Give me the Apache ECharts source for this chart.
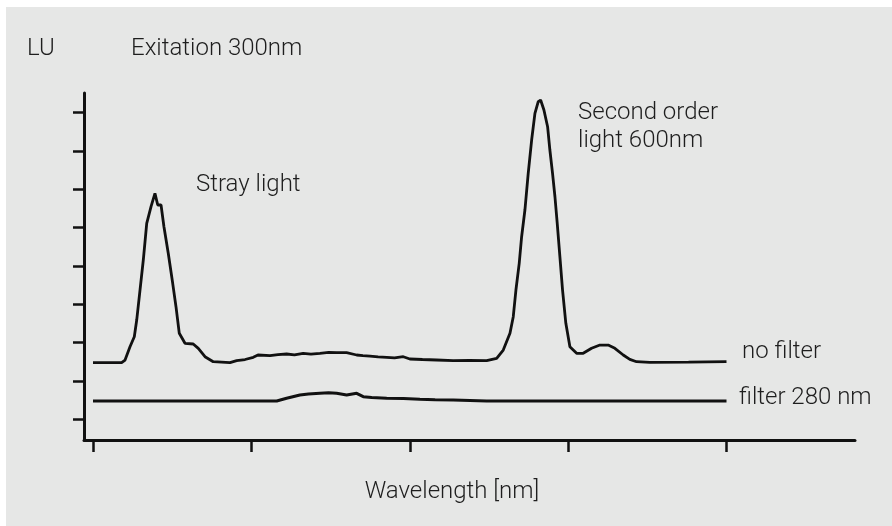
<!DOCTYPE html>
<html>
<head>
<meta charset="utf-8">
<style>
html,body{margin:0;padding:0;background:#ffffff;}
#chart{width:892px;height:526px;}
</style>
<script src="https://cdn.jsdelivr.net/npm/echarts@6/dist/echarts.min.js"></script>
</head>
<body>
<div id="chart"></div>
<script>
// Wavelength (nm) and signal (LU)
var noFilterX = [250, 272.6, 275.3, 279.2, 282.6, 284.5, 287.1, 289.7, 292.4, 295.8, 298.9, 301.1, 303.7, 306.0, 309.4, 312.9, 315.5, 318.1, 322.6, 329.1, 333.1, 338.4, 344.9, 358.1, 363.4, 370, 376.5, 380.2, 389.7, 396, 402.8, 409, 415.9, 422, 429.1, 436, 442.3, 450.2, 458.1, 463, 468.6, 475, 481.8, 488, 494.9, 500.1, 510, 521.2, 534.3, 547, 560.7, 568.6, 573.8, 579.1, 581.7, 583.8, 586.4, 588.3, 590.9, 593.5, 596.2, 598.8, 601.4, 603.3, 605.9, 608.8, 610.6, 612.7, 614.6, 616.4, 618.5, 620.6, 623.2, 626.4, 631.7, 636.9, 643.5, 650.1, 656.6, 661.9, 668.5, 673.7, 679.0, 689.5, 720, 750];
var noFilterY = [1.48, 1.48, 1.547, 1.894, 2.155, 2.59, 3.373, 4.156, 5.114, 5.547, 5.896, 5.591, 5.591, 5.025, 4.331, 3.548, 2.938, 2.244, 1.983, 1.965, 1.852, 1.633, 1.503, 1.477, 1.529, 1.56, 1.618, 1.678, 1.66, 1.69, 1.704, 1.68, 1.722, 1.70, 1.722, 1.745, 1.738, 1.738, 1.678, 1.66, 1.651, 1.63, 1.618, 1.60, 1.633, 1.573, 1.56, 1.547, 1.529, 1.54, 1.529, 1.591, 1.808, 2.244, 2.677, 3.373, 4.07, 4.764, 5.461, 6.418, 7.287, 7.983, 8.286, 8.33, 8.069, 7.634, 7.026, 6.418, 5.807, 5.114, 4.242, 3.373, 2.505, 1.894, 1.722, 1.722, 1.852, 1.938, 1.938, 1.852, 1.678, 1.565, 1.503, 1.487, 1.49, 1.503];
var filterX = [250, 395, 402.8, 413.3, 420, 429.1, 436, 442.3, 450.2, 458.1, 463.3, 470, 481.8, 495, 508.0, 520, 534.3, 560.7, 620, 750];
var filterY = [0.477, 0.477, 0.548, 0.634, 0.66, 0.678, 0.69, 0.678, 0.634, 0.678, 0.590, 0.57, 0.548, 0.54, 0.522, 0.51, 0.504, 0.477, 0.477, 0.477];
var xTicks = [250, 375, 500, 625, 750];
var yTicks = [0, 1, 2, 3, 4, 5, 6, 7, 8];

function pairs(xs, ys) { return xs.map(function (x, i) { return [x, ys[i]]; }); }

var ink = '#111111';
var txt = { fontFamily: 'Roboto', fontSize: 24, fontWeight: 300, fill: '#1e1e1e' };
function label(text, x, y, align) {
  return { type: 'text', x: x, y: y, z: 10,
    style: Object.assign({ text: text, textAlign: align || 'left', textVerticalAlign: 'middle' }, txt) };
}

var chart = echarts.init(document.getElementById('chart'), null, { renderer: 'canvas' });
chart.setOption({
  backgroundColor: 'transparent',
  animation: false,
  graphic: [
    { type: 'rect', z: -10, shape: { x: 6, y: 7, width: 886, height: 519 }, style: { fill: '#e6e7e6' } },
    label('LU', 27, 49),
    label('Exitation 300nm', 131, 49),
    label('Stray light', 196, 185),
    label('Second order', 578, 113),
    label('light 600nm', 578, 141),
    label('no filter', 742, 352),
    label('filter 280 nm', 739, 398),
    label('Wavelength [nm]', 452, 492, 'center')
  ],
  grid: [
    { left: 84, top: 93, width: 771, height: 347 },
    { left: 93, top: 112.7, width: 633.5, height: 306.6 }
  ],
  xAxis: [
    { gridIndex: 0, type: 'value', min: 0, max: 1,
      axisLine: { show: true, onZero: false, lineStyle: { color: ink, width: 3 } },
      axisTick: { show: false }, axisLabel: { show: false }, splitLine: { show: false } },
    { gridIndex: 1, type: 'value', min: xTicks[0], max: xTicks[xTicks.length - 1], interval: 125,
      offset: 20.7,
      axisLine: { show: false, onZero: false },
      axisTick: { show: true, length: 12, lineStyle: { color: ink, width: 2.5 } },
      axisLabel: { show: false }, splitLine: { show: false } }
  ],
  yAxis: [
    { gridIndex: 0, type: 'value', min: 0, max: 1,
      axisLine: { show: true, onZero: false, lineStyle: { color: ink, width: 3 } },
      axisTick: { show: false }, axisLabel: { show: false }, splitLine: { show: false } },
    { gridIndex: 1, type: 'value', min: yTicks[0], max: yTicks[yTicks.length - 1], interval: 1,
      offset: 9,
      axisLine: { show: false, onZero: false },
      axisTick: { show: true, length: 11, lineStyle: { color: ink, width: 2.5 } },
      axisLabel: { show: false }, splitLine: { show: false } }
  ],
  series: [
    { name: 'no filter', type: 'line', xAxisIndex: 1, yAxisIndex: 1, data: pairs(noFilterX, noFilterY),
      showSymbol: false, clip: false, lineStyle: { color: ink, width: 2.8 } },
    { name: 'filter 280 nm', type: 'line', xAxisIndex: 1, yAxisIndex: 1, data: pairs(filterX, filterY),
      showSymbol: false, clip: false, lineStyle: { color: ink, width: 3 } }
  ]
});
</script>
</body>
</html>
